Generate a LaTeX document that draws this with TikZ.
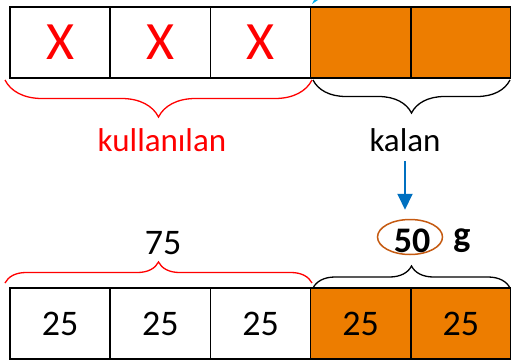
\documentclass[tikz,border=0pt]{standalone}
\usepackage{fontspec}
\setmainfont{Carlito}
\usepackage{tikz}
\usetikzlibrary{arrows.meta,positioning,shapes.geometric,decorations.pathreplacing}
\definecolor{barorange}{RGB}{237,125,0}
\definecolor{ovalbrown}{RGB}{197,90,17}
\definecolor{arrowblue}{RGB}{0,112,192}
\definecolor{tipcyan}{RGB}{0,176,240}
\tikzstyle{cell} = [rectangle, minimum width=100.2pt, minimum height=71pt, inner sep=0pt, outer sep=0pt, draw=black, line width=1.6pt, text centered, font=\fontsize{36}{36}\selectfont]
\tikzstyle{rest} = [cell, fill=barorange]
\tikzstyle{brace} = [decorate, line width=1.3pt]
\tikzstyle{arrow} = [line width=2pt, -{Triangle[length=16pt,width=15pt]}, color=arrowblue]

\begin{document}
\begin{tikzpicture}[x=1pt, y=-1pt]
\useasboundingbox (0,0) rectangle (511,362);
% Top bar
\node (u1) [cell, anchor=north west, text=red, font=\fontsize{54}{54}\selectfont] at (10,7) {X};
\node (u2) [cell, right=0pt of u1, text=red, font=\fontsize{54}{54}\selectfont] {X};
\node (u3) [cell, right=0pt of u2, text=red, font=\fontsize{54}{54}\selectfont] {X};
\node (u4) [rest, right=0pt of u3] {};
\node (u5) [rest, right=0pt of u4] {};

% Braces below top bar
\draw[brace, red, decoration={brace, mirror, amplitude=37pt, aspect=0.5}] (5,80) -- (312,80);
\draw[brace, decoration={brace, mirror, amplitude=33pt, aspect=0.5}] (313,80) -- (510,80);
\node (used) [text=red, font=\fontsize{33}{33}\selectfont] at (162,140) {kullanılan};
\node (left) [font=\fontsize{33}{33}\selectfont] at (405,140) {kalan};

% Remaining amount
\node (oval) [ellipse, draw=ovalbrown, line width=1.5pt, minimum width=65pt, minimum height=35pt, inner sep=0pt] at (410,237) {};
\node (fifty) [font=\bfseries\fontsize{36}{36}\selectfont] at (412,241) {50};
\node (gram) [font=\bfseries\fontsize{36}{36}\selectfont] at (462,241) {g};
\draw[arrow, shorten <=6pt, shorten >=9pt] (left.south) -- (left.south |- oval.north);

\node (total) [font=\fontsize{36}{36}\selectfont] at (163,243) {75};

% Bottom bar
\node (b1) [cell, anchor=north west] at (10,288) {25};
\node (b2) [cell, right=0pt of b1] {25};
\node (b3) [cell, right=0pt of b2] {25};
\node (b4) [rest, right=0pt of b3] {25};
\node (b5) [rest, right=0pt of b4] {25};

% Braces above bottom bar
\draw[brace, red, decoration={brace, amplitude=21pt, aspect=0.5}] (5,283) -- (312,283);
\draw[brace, decoration={brace, amplitude=22pt, aspect=0.5}] (313,288) -- (510,288);

% cut-off tip at the top
\fill[tipcyan] (312,4) -- (318,0) -- (314,0) -- cycle;
\end{tikzpicture}
\end{document}
